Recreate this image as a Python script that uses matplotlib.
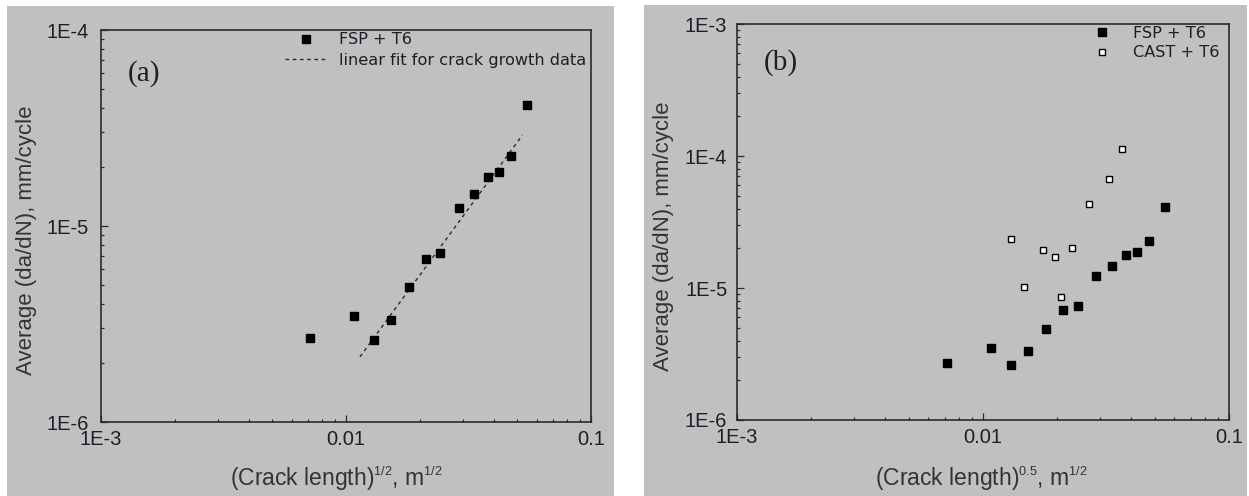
import matplotlib
matplotlib.use("Agg")
import matplotlib.pyplot as plt
import matplotlib._mathtext as _mt
from matplotlib.patches import Rectangle
from matplotlib.ticker import FixedLocator, FixedFormatter, LogLocator, NullFormatter

# smaller superscripts, like the reference
_mt.SHRINK_FACTOR = 0.55

# ---------------- data ----------------
fsp_x = [0.00713, 0.0108, 0.0130, 0.0152, 0.0180, 0.0212, 0.0243, 0.0288,
         0.0334, 0.0381, 0.0423, 0.0471, 0.0548]
fsp_y = [2.68e-6, 3.49e-6, 2.63e-6, 3.31e-6, 4.88e-6, 6.78e-6, 7.30e-6, 1.24e-5,
         1.46e-5, 1.77e-5, 1.88e-5, 2.27e-5, 4.13e-5]
fit_x = [0.0114, 0.0525]
fit_y = [2.15e-6, 2.91e-5]
cast_x = [0.0130, 0.0147, 0.0175, 0.0196, 0.0208, 0.0230, 0.0270, 0.0324, 0.0367]
cast_y = [2.35e-5, 1.01e-5, 1.93e-5, 1.71e-5, 8.5e-6, 2.00e-5, 4.33e-5, 6.65e-5, 1.13e-4]

xticks = [1e-3, 1e-2, 1e-1]
xticklabels = ["1E-3", "0.01", "0.1"]
yticks_a = [1e-6, 1e-5, 1e-4]
yticklabels_a = ["1E-6", "1E-5", "1E-4"]
yticks_b = [1e-6, 1e-5, 1e-4, 1e-3]
yticklabels_b = ["1E-6", "1E-5", "1E-4", "1E-3"]

label_fsp = "FSP + T6"
label_cast = "CAST + T6"
label_fit = "linear fit for crack growth data"
ylabel = "Average (da/dN), mm/cycle"
xlabel_a = r"(Crack length)$^{\mathrm{1/2}}$, m$^{\mathrm{1/2}}$"
xlabel_b = r"(Crack length)$^{\mathrm{0.5}}$, m$^{\mathrm{1/2}}$"

# ---------------- style ----------------
plt.rcParams["font.family"] = ["Liberation Sans", "DejaVu Sans"]
plt.rcParams["mathtext.fontset"] = "custom"
plt.rcParams["mathtext.rm"] = "Liberation Sans"
plt.rcParams["mathtext.it"] = "Liberation Sans:italic"
plt.rcParams["mathtext.bf"] = "Liberation Sans:bold"

GRAY = "#c0c0c0"
DARK = "#2a2a2a"
TXT = "#1e1e28"
LBL = "#333333"

W, H = 1249, 496
fig = plt.figure(figsize=(W / 100, H / 100), dpi=100)
fig.patch.set_facecolor("white")
fig.patches.append(Rectangle((7 / W, 0), 607 / W, 490 / H, transform=fig.transFigure,
                             facecolor=GRAY, edgecolor="none", zorder=-10))
fig.patches.append(Rectangle((644 / W, 0), 603 / W, 491 / H, transform=fig.transFigure,
                             facecolor=GRAY, edgecolor="none", zorder=-10))

ax1 = fig.add_axes([101 / W, (H - 422) / H, 490 / W, 392 / H])
ax2 = fig.add_axes([737 / W, (H - 420) / H, 492 / W, 396 / H])


def style(ax, yticks, yticklabels, ylim, ypad):
    ax.set_facecolor(GRAY)
    ax.set_xscale("log")
    ax.set_yscale("log")
    ax.set_xlim(1e-3, 1e-1)
    ax.set_ylim(*ylim)
    for s in ax.spines.values():
        s.set_color(DARK)
        s.set_linewidth(1.2)
    ax.xaxis.set_major_locator(FixedLocator(xticks))
    ax.xaxis.set_major_formatter(FixedFormatter(xticklabels))
    ax.yaxis.set_major_locator(FixedLocator(yticks))
    ax.yaxis.set_major_formatter(FixedFormatter(yticklabels))
    ax.xaxis.set_minor_locator(LogLocator(base=10, subs=range(2, 10), numticks=20))
    ax.yaxis.set_minor_locator(LogLocator(base=10, subs=range(2, 10), numticks=20))
    ax.xaxis.set_minor_formatter(NullFormatter())
    ax.yaxis.set_minor_formatter(NullFormatter())
    ax.tick_params(which="both", direction="in", top=False, right=False,
                   colors=DARK, labelcolor=TXT, labelsize=14.5, width=0.9)
    ax.tick_params(which="major", length=5)
    ax.tick_params(which="minor", length=2.5)
    ax.tick_params(axis="y", which="major", pad=ypad)
    ax.tick_params(axis="x", which="major", pad=6)


style(ax1, yticks_a, yticklabels_a, (1e-6, 1e-4), 8.5)
style(ax2, yticks_b, yticklabels_b, (1e-6, 1e-3), 7)

# ---------------- panel (a) ----------------
ax1.plot(fsp_x, fsp_y, linestyle="none", marker="s", markersize=5.2,
         color="black", label=label_fsp, zorder=3)
ax1.plot(fit_x, fit_y, linestyle=(0, (2.6, 2.6)), linewidth=1.0, color=DARK,
         label=label_fit, zorder=2)
leg1 = ax1.legend(loc="upper left", bbox_to_anchor=(0.3755, 0.994), frameon=False,
                  borderpad=0, borderaxespad=0, handlelength=2.6, handletextpad=0.75,
                  labelspacing=0.35, prop={"family": "DejaVu Sans", "size": 11.6})
for t in leg1.get_texts():
    t.set_color(TXT)

ax1.text(0.055, 0.890, "(a)", transform=ax1.transAxes, ha="left", va="center",
         fontsize=21, family="Liberation Serif", color=TXT)
ax1.set_ylabel(ylabel, fontsize=16, color=LBL)
ax1.yaxis.set_label_coords(-0.13, 0.464)
ax1.set_xlabel(xlabel_a, fontsize=16.5, color=LBL)
ax1.xaxis.set_label_coords(0.48, -0.108)
ax1.xaxis.label.set_va("top")

# ---------------- panel (b) ----------------
ax2.plot(fsp_x, fsp_y, linestyle="none", marker="s", markersize=5.2,
         color="black", label=label_fsp, zorder=3)
ax2.plot(cast_x, cast_y, linestyle="none", marker="s", markersize=5.0,
         markerfacecolor="white", markeredgecolor="black", markeredgewidth=1.0,
         label=label_cast, zorder=3)
leg2 = ax2.legend(loc="upper left", bbox_to_anchor=(0.699, 0.996), frameon=False,
                  borderpad=0, borderaxespad=0, handlelength=2.6, handletextpad=0.65,
                  labelspacing=0.3, prop={"family": "DejaVu Sans", "size": 11.6})
for t in leg2.get_texts():
    t.set_color(TXT)

ax2.text(0.055, 0.902, "(b)", transform=ax2.transAxes, ha="left", va="center",
         fontsize=21, family="Liberation Serif", color=TXT)
ax2.set_ylabel(ylabel, fontsize=16, color=LBL)
ax2.yaxis.set_label_coords(-0.128, 0.463)
ax2.set_xlabel(xlabel_b, fontsize=16.5, color=LBL)
ax2.xaxis.set_label_coords(0.497, -0.112)
ax2.xaxis.label.set_va("top")

fig.savefig("out.png", dpi=100, facecolor="white")
